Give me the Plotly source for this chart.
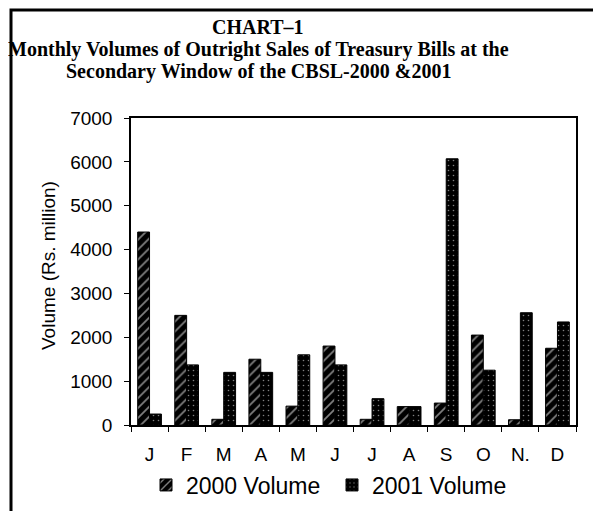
import plotly.graph_objects as go

months = ["J", "F", "M", "A", "M.", "J.", "J..", "A.", "S", "O", "N.", "D"]
month_labels = ["J", "F", "M", "A", "M", "J", "J", "A", "S", "O", "N.", "D"]
vol_2000 = [4400, 2500, 130, 1500, 430, 1800, 130, 420, 500, 2050, 120, 1750]
vol_2001 = [250, 1370, 1200, 1200, 1600, 1370, 600, 420, 6070, 1250, 2560, 2350]
y_ticks = [0, 1000, 2000, 3000, 4000, 5000, 6000, 7000]
title_lines = ["CHART–1",
               "Monthly Volumes of Outright Sales of Treasury Bills at the",
               "Secondary Window of the CBSL-2000 &2001"]

OFF = 8  # page body margin
W, H = 601 - OFF, 511 - OFF
L, T = 131 - OFF, 118 - OFF
R = W - (576 - OFF)
B = H - (425 - OFF)
PW, PH = W - L - R, H - T - B


def px_x(x):  # page pixel -> paper
    return (x - OFF - L) / PW


def px_y(y):
    return (H - B - (y - OFF)) / PH


fig = go.Figure()
fig.add_trace(go.Bar(
    x=months, y=vol_2000, name="2000 Volume",
    marker=dict(color="black", line=dict(color="black", width=1),
                pattern=dict(shape="/", fgcolor="white", bgcolor="black", size=7, solidity=0.25)),
))
fig.add_trace(go.Bar(
    x=months, y=vol_2001, name="2001 Volume",
    marker=dict(color="black", line=dict(color="black", width=1),
                pattern=dict(shape=".", fgcolor="white", bgcolor="black", size=5, solidity=0.08)),
))

fig.update_layout(
    width=W, height=H,
    margin=dict(l=L, r=R, t=T, b=B, autoexpand=False),
    paper_bgcolor="white", plot_bgcolor="white",
    barmode="group", bargap=0.36, bargroupgap=0,
    showlegend=True,
    legend=dict(orientation="h", x=px_x(146), xanchor="left", y=px_y(485), yanchor="middle",
                font=dict(family="Liberation Sans, Arial", size=23, color="black"),
                itemwidth=30, traceorder="normal", tracegroupgap=0,
                entrywidth=141, entrywidthmode="pixels",
                bgcolor="rgba(0,0,0,0)"),
    font=dict(family="Liberation Sans, Arial", color="black"),
)
for txt, yc in zip(title_lines, [27, 50, 72]):
    fig.add_annotation(text="<b>" + txt + "</b>", xref="paper", yref="paper",
                       x=px_x(258), y=px_y(yc), xanchor="center", yanchor="middle",
                       showarrow=False,
                       font=dict(family="Liberation Serif, Times New Roman", size=20, color="black"))
fig.add_annotation(text="Volume (Rs. million)", xref="paper", yref="paper",
                   x=px_x(48), y=px_y(266), xanchor="center", yanchor="middle",
                   textangle=-90, showarrow=False,
                   font=dict(family="Liberation Sans, Arial", size=19, color="black"))

fig.update_xaxes(
    tickvals=months, ticktext=month_labels,
    showline=True, linecolor="black", linewidth=1.5, mirror=True,
    ticks="outside", ticklen=5, tickcolor="black", tickson="boundaries",
    tickfont=dict(family="Liberation Sans, Arial", size=19, color="black"),
    ticklabelstandoff=11, showgrid=False, automargin=False,
)
fig.update_yaxes(
    range=[0, 7000], tickvals=y_ticks,
    showline=True, linecolor="black", linewidth=1.5, mirror=True,
    ticks="outside", ticklen=5, tickcolor="black",
    tickfont=dict(family="Liberation Sans, Arial", size=19, color="black"),
    ticklabelstandoff=8,
    showgrid=False, zeroline=False, automargin=False,
)
# outer frame around the whole chart
fig.add_shape(type="rect", xref="paper", yref="paper",
              x0=px_x(11), x1=px_x(598),
              y0=px_y(520), y1=px_y(10),
              line=dict(color="black", width=3), fillcolor="rgba(0,0,0,0)", layer="below")

fig.write_html("out.html")
